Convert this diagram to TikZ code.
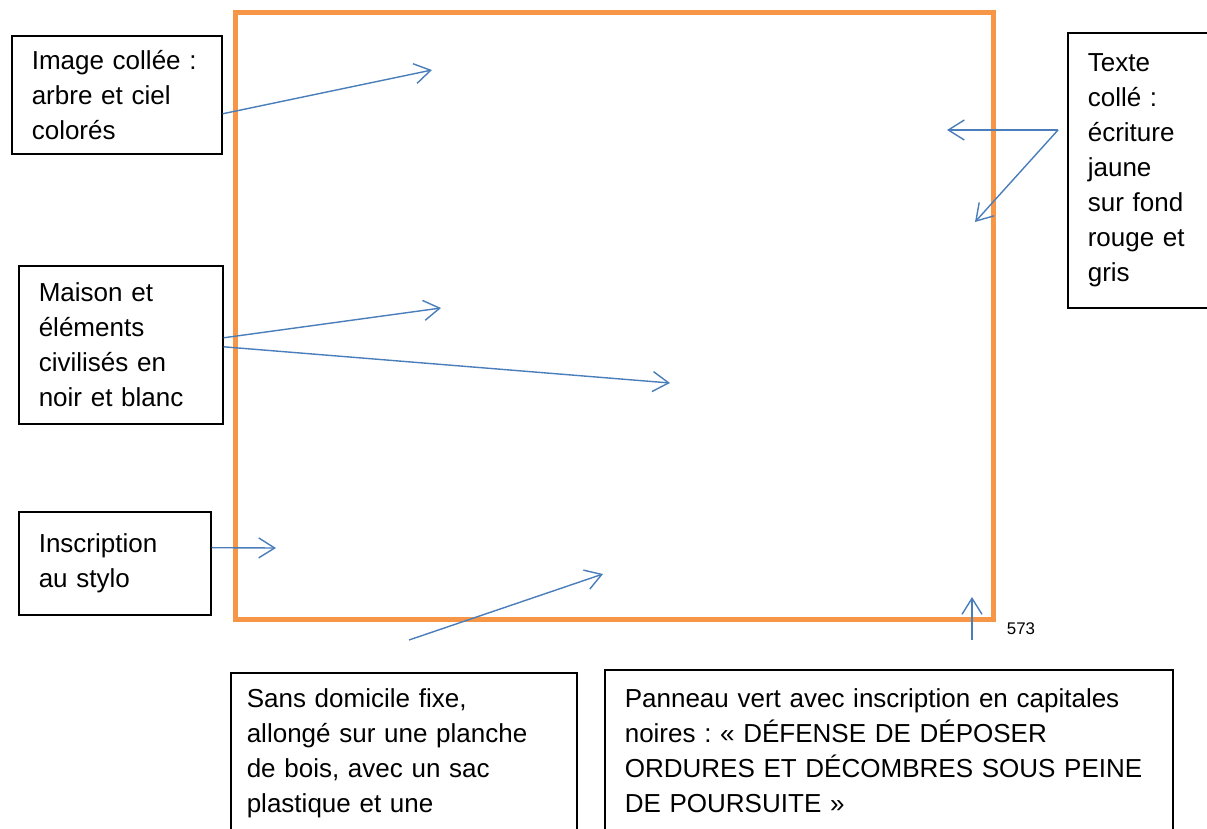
\documentclass[tikz,border=0pt]{standalone}
\usepackage{fontspec}
\setmainfont{Liberation Sans}
\usetikzlibrary{arrows.meta}
\definecolor{frameorange}{RGB}{247,150,70}
\definecolor{pointerblue}{RGB}{74,126,187}
\frenchspacing

\begin{document}
\begin{tikzpicture}[x=0.025cm, y=-0.025cm,
    notebox/.style={draw, line width=1.1pt, anchor=north west, align=left, inner xsep=0.5cm,
        font=\fontsize{18.5}{24.9}\selectfont},
    pointer/.style={pointerblue, line width=1pt, -{Straight Barb[length=0.4cm, width=0.5cm]}}]
    \useasboundingbox (0,0) rectangle (1207,828);
    \clip (0,0) rectangle (1207,828);
    \draw [frameorange, line width=0.125cm] (235,13) rectangle (993,619);

    \node [notebox, text width=4.25cm, minimum height=2.95cm] (img) at (11,35) {Image collée :\\ arbre et ciel\\ colorés};
    \node [notebox, text width=4.1cm, minimum height=3.95cm] (mai) at (18,265) {Maison et\\ éléments\\ civilisés en\\ noir et blanc};
    \node [notebox, text width=3.8cm, minimum height=2.575cm] (ins) at (18,511) {Inscription\\ au stylo};
    \node [notebox, text width=4cm, minimum height=6.875cm] (txt) at (1067,32) {Texte\\ collé :\\ écriture\\ jaune\\ sur fond\\ rouge et\\ gris};
    \node [notebox, text width=7.85cm, inner xsep=0.4cm, inner ysep=0.39cm, text depth=4cm] (sdf) at (230,672)
        {Sans domicile fixe,\\ allongé sur une planche\\ de bois, avec un sac\\ plastique et une};
    \node [notebox, text width=13.2cm, inner ysep=0.465cm, text depth=4cm] (pan) at (604,669)
        {Panneau vert avec inscription en capitales\\ noires : « DÉFENSE DE DÉPOSER\\ ORDURES ET DÉCOMBRES SOUS PEINE\\ DE POURSUITE »};
    \node [font=\fontsize{12}{14}\selectfont] (pgno) at (1021,629) {573};

    \coordinate (imgtip) at (432,70);
    \coordinate (maitipa) at (441,308);
    \coordinate (maitipb) at (670,383);
    \coordinate (instip) at (276,548);
    \coordinate (txtfork) at (1058,130);
    \coordinate (txttipa) at (947,130);
    \coordinate (txttipb) at (975,222);
    \coordinate (sdfstart) at (409,640);
    \coordinate (sdftip) at (603,574);
    \coordinate (panstart) at (972,640);
    \coordinate (pantip) at (972,597);

    \draw [pointer] ([yshift=-0.475cm]img.east) -- (imgtip);
    \draw [pointer] ([yshift=0.175cm]mai.east) -- (maitipa);
    \draw [pointer] ([yshift=-0.05cm]mai.east) -- (maitipb);
    \draw [pointer] ([yshift=0.39cm]ins.east) -- (instip);
    \draw [pointer] (txtfork) -- (txttipa);
    \draw [pointer] (txtfork) -- (txttipb);
    \draw [pointer] (sdfstart) -- (sdftip);
    \draw [pointer] (panstart) -- (pantip);
\end{tikzpicture}
\end{document}
